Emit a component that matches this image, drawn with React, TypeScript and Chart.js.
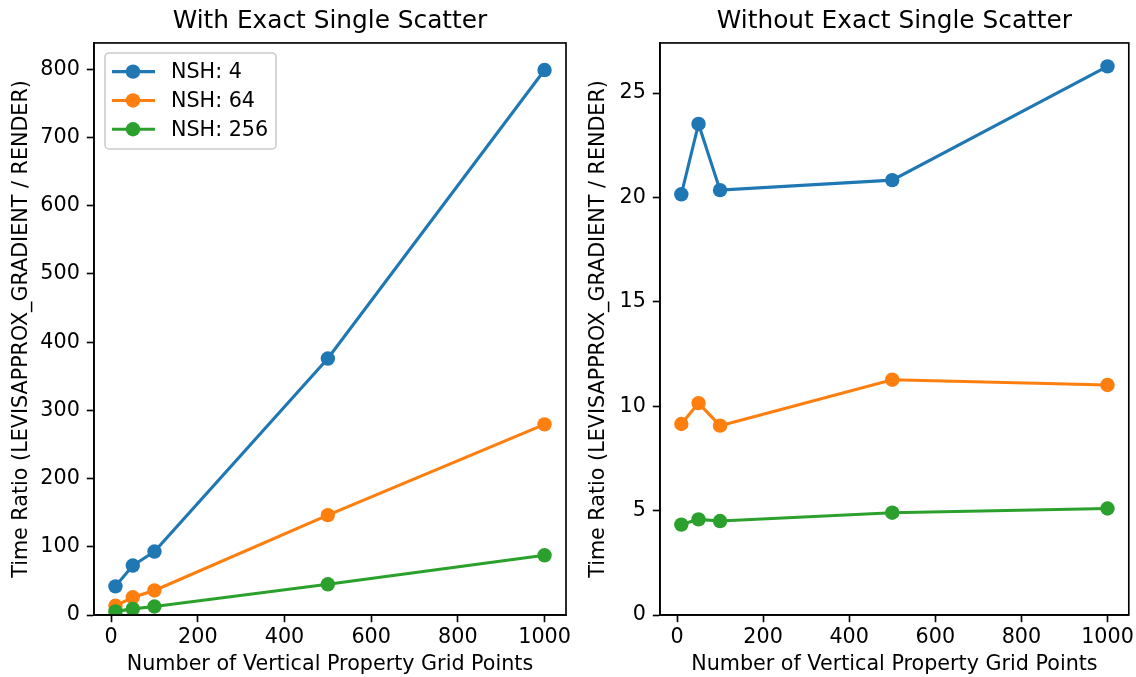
import React, { useEffect, useRef } from "react";
import { Chart, registerables } from "chart.js";

Chart.register(...registerables);

// ---- data ----
const xValues = [10, 50, 100, 500, 1000];
const seriesLabels = ["NSH: 4", "NSH: 64", "NSH: 256"];
const seriesColors = ["#1f77b4", "#ff7f0e", "#2ca02c"];

const withExactNsh4 = [42, 72.5, 93, 376, 799];
const withExactNsh64 = [13.5, 26, 36, 146.5, 279.5];
const withExactNsh256 = [5.3, 9, 12.5, 45, 87.5];

const withoutExactNsh4 = [20.15, 23.52, 20.35, 20.83, 26.28];
const withoutExactNsh64 = [9.15, 10.15, 9.07, 11.27, 11.02];
const withoutExactNsh256 = [4.33, 4.58, 4.5, 4.9, 5.1];

const xTicks = [0, 200, 400, 600, 800, 1000];
const leftYTicks = [0, 100, 200, 300, 400, 500, 600, 700, 800];
const rightYTicks = [0, 5, 10, 15, 20, 25];

const xTitle = "Number of Vertical Property Grid Points";
const yTitle = "Time Ratio (LEVISAPPROX_GRADIENT / RENDER)";
const leftTitle = "With Exact Single Scatter";
const rightTitle = "Without Exact Single Scatter";

const FONT = "'DejaVu Sans', sans-serif";
const LABEL_SIZE = 20.7;
const TITLE_SIZE = 24.8;

const framePlugin = {
  id: "frame",
  afterDraw(chart: any) {
    const { ctx, chartArea } = chart;
    ctx.save();
    ctx.strokeStyle = "#000";
    ctx.lineWidth = 1.65;
    ctx.strokeRect(chartArea.left, chartArea.top, chartArea.right - chartArea.left, chartArea.bottom - chartArea.top);
    ctx.restore();
  },
};

const legendPlugin = {
  id: "mplLegend",
  afterDatasetsDraw(chart: any) {
    const { ctx, chartArea } = chart;
    const x0 = chartArea.left + 11;
    const y0 = chartArea.top + 10;
    const w = 171;
    const h = 96;
    ctx.save();
    ctx.beginPath();
    (ctx as any).roundRect(x0, y0, w, h, 4);
    ctx.fillStyle = "rgba(255,255,255,0.8)";
    ctx.fill();
    ctx.strokeStyle = "#cccccc";
    ctx.lineWidth = 1.6;
    ctx.stroke();
    seriesLabels.forEach((label, i) => {
      const y = y0 + 18.7 + i * 28.8;
      ctx.strokeStyle = seriesColors[i];
      ctx.lineWidth = 3.1;
      ctx.beginPath();
      ctx.moveTo(x0 + 7, y);
      ctx.lineTo(x0 + 50, y);
      ctx.stroke();
      ctx.fillStyle = seriesColors[i];
      ctx.beginPath();
      ctx.arc(x0 + 28, y, 7.2, 0, Math.PI * 2);
      ctx.fill();
      ctx.fillStyle = "#000";
      ctx.font = `${LABEL_SIZE}px ${FONT}`;
      ctx.textBaseline = "middle";
      ctx.textAlign = "left";
      ctx.fillText(label, x0 + 66, y + 1);
    });
    ctx.restore();
  },
};

function makeDatasets(series: number[][]) {
  return series.map((vals, i) => ({
    label: seriesLabels[i],
    data: xValues.map((x, j) => ({ x, y: vals[j] })),
    borderColor: seriesColors[i],
    backgroundColor: seriesColors[i],
    pointBackgroundColor: seriesColors[i],
    pointBorderWidth: 0,
    pointRadius: 7.2,
    borderWidth: 3.1,
    tension: 0,
    order: series.length - 1 - i,
  }));
}

function makeConfig(opts: {
  title: string;
  series: number[][];
  yMax: number;
  yTicks: number[];
  yWidth: number;
  yTitlePad: number;
  padRight: number;
  legend: boolean;
}) {
  return {
    type: "line",
    data: { datasets: makeDatasets(opts.series) },
    plugins: opts.legend ? [framePlugin, legendPlugin] : [framePlugin],
    options: {
      responsive: false,
      animation: false,
      layout: { padding: { left: 0, right: opts.padRight, top: 0, bottom: 0 } },
      plugins: {
        legend: { display: false },
        tooltip: { enabled: false },
        title: {
          display: true,
          text: opts.title,
          color: "#000",
          fullSize: false,
          font: { family: FONT, size: TITLE_SIZE, weight: "normal", lineHeight: 1.2 },
          padding: { top: 7, bottom: 6.2 },
        },
      },
      scales: {
        x: {
          type: "linear",
          min: -39.5,
          max: 1049.5,
          afterBuildTicks: (scale: any) => {
            scale.ticks = xTicks.map((v) => ({ value: v }));
          },
          afterFit: (scale: any) => {
            scale.height = 62;
            scale.paddingLeft = 0;
            scale.paddingRight = 0;
          },
          ticks: {
            color: "#000",
            font: { family: FONT, size: LABEL_SIZE },
            padding: 3,
            maxRotation: 0,
            autoSkip: false,
            callback: (v: any) => String(v),
          },
          grid: {
            drawOnChartArea: false,
            drawTicks: true,
            tickLength: 7.2,
            tickColor: "#000",
            tickWidth: 1.65,
          },
          border: { display: true, color: "#000", width: 1.65 },
          title: {
            display: true,
            text: xTitle,
            color: "#000",
            font: { family: FONT, size: LABEL_SIZE, lineHeight: 1.2 },
            padding: { top: 0, bottom: 0 },
          },
        },
        y: {
          type: "linear",
          min: 0,
          max: opts.yMax,
          afterBuildTicks: (scale: any) => {
            scale.ticks = opts.yTicks.map((v) => ({ value: v }));
          },
          afterFit: (scale: any) => {
            scale.width = opts.yWidth;
            scale.paddingTop = 0;
            scale.paddingBottom = 0;
          },
          ticks: {
            color: "#000",
            font: { family: FONT, size: LABEL_SIZE },
            padding: 7,
            autoSkip: false,
            callback: (v: any) => String(v),
          },
          grid: {
            drawOnChartArea: false,
            drawTicks: true,
            tickLength: 7.2,
            tickColor: "#000",
            tickWidth: 1.65,
          },
          border: { display: true, color: "#000", width: 1.65 },
          title: {
            display: true,
            text: yTitle,
            color: "#000",
            font: { family: FONT, size: LABEL_SIZE, lineHeight: 1.2 },
            padding: { top: opts.yTitlePad, bottom: 0 },
          },
        },
      },
    },
  };
}

function ChartCanvas(props: { config: any; left: number; width: number }) {
  const ref = useRef<HTMLCanvasElement | null>(null);
  useEffect(() => {
    if (!ref.current) return;
    const chart = new Chart(ref.current, props.config);
    return () => chart.destroy();
  }, []);
  return (
    <canvas
      ref={ref}
      width={props.width}
      height={677}
      style={{ position: "absolute", left: props.left, top: 0, width: props.width, height: 677, display: "block" }}
    />
  );
}

export default function App() {
  const leftConfig = makeConfig({
    title: leftTitle,
    series: [withExactNsh4, withExactNsh64, withExactNsh256],
    yMax: 838.7,
    yTicks: leftYTicks,
    yWidth: 94,
    yTitlePad: 9.5,
    padRight: 14,
    legend: true,
  });
  const rightConfig = makeConfig({
    title: rightTitle,
    series: [withoutExactNsh4, withoutExactNsh64, withoutExactNsh256],
    yMax: 27.4,
    yTicks: rightYTicks,
    yWidth: 80,
    yTitlePad: 6.5,
    padRight: 5,
    legend: false,
  });
  return (
    <div style={{ position: "fixed", left: 0, top: 0, width: 1136, height: 677, background: "#fff" }}>
      <ChartCanvas config={leftConfig} left={0} width={580} />
      <ChartCanvas config={rightConfig} left={580} width={556} />
    </div>
  );
}
